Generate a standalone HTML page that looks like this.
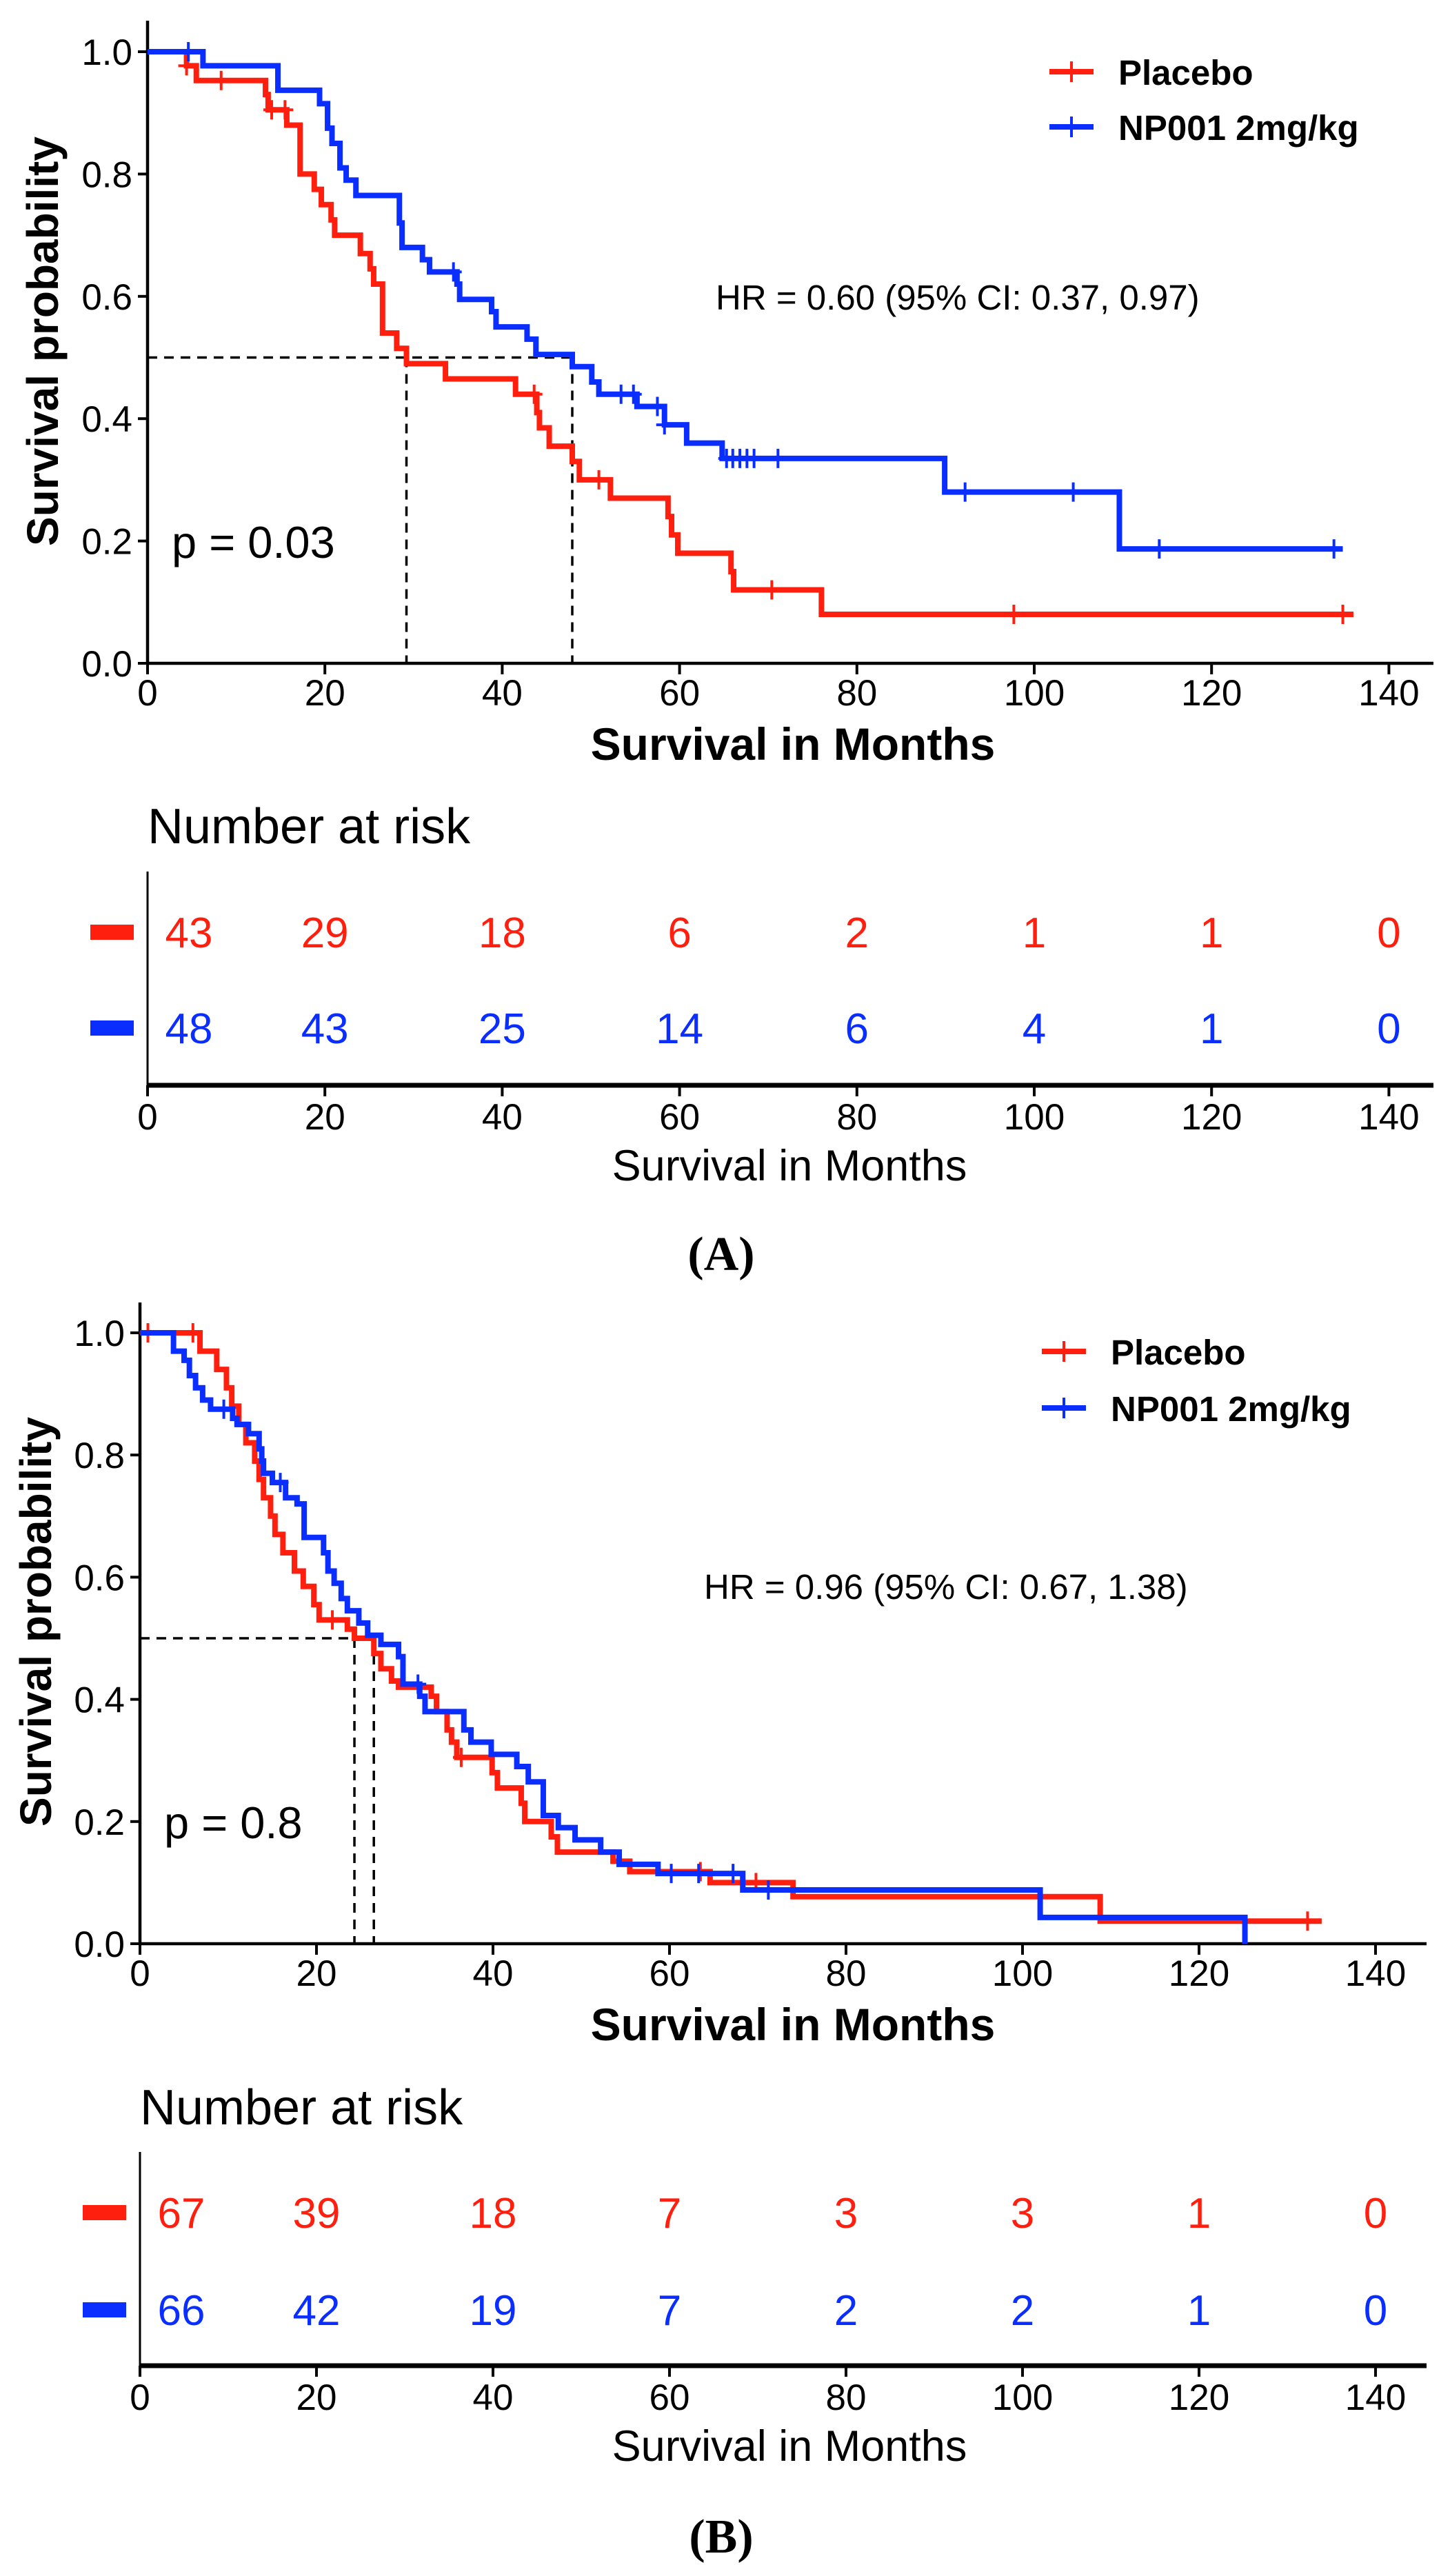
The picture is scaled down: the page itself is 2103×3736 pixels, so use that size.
<!DOCTYPE html>
<html><head><meta charset="utf-8"><style>
html,body{margin:0;padding:0;background:#fff}
svg{display:block}
text{font-family:"Liberation Sans",sans-serif}
</style></head><body>
<svg id="fig" xmlns="http://www.w3.org/2000/svg" width="2103" height="3736" viewBox="0 0 2103 3736">
<rect width="2103" height="3736" fill="#fff"/>
</svg>
<script>
// ---------- Panel A data ----------
const aPlaceboT = [0,4.4,5.5,13.3,13.6,15.7,17.2,18.8,19.6,20.7,21.1,24.0,25.1,25.5,26.5,28.1,29.2,33.6,41.5,43.9,44.2,45.3,47.9,48.7,52.2,58.7,59.1,59.8,65.8,66.1,76.0];
const aPlaceboS = [1,0.977,0.953,0.93,0.905,0.88,0.80,0.775,0.75,0.725,0.70,0.67,0.645,0.62,0.54,0.515,0.49,0.465,0.44,0.41,0.385,0.355,0.33,0.30,0.27,0.24,0.21,0.18,0.15,0.12,0.08];
const aPlaceboEnd = 136;
const aPlaceboCens = [4.4,8.3,14.0,15.5,43.6,50.9,70.4,97.7,134.8];
const aDrugT = [0,6.25,14.7,19.4,20.3,20.8,21.7,22.4,23.5,28.4,28.7,31.0,31.8,34.9,35.2,38.8,39.3,42.8,43.8,47.9,50.1,50.9,55.2,58.3,60.8,64.8,89.9,109.6];
const aDrugS = [1,0.977,0.937,0.915,0.875,0.85,0.81,0.79,0.765,0.72,0.68,0.66,0.64,0.62,0.595,0.575,0.55,0.53,0.505,0.485,0.46,0.44,0.42,0.39,0.36,0.335,0.28,0.187];
const aDrugEnd = 134.8;
const aDrugCens = [4.6,34.5,53.4,54.8,57.5,58.3,65.3,66.0,66.8,67.6,68.4,71.1,92.2,104.4,114.1,133.8];
const aMedians = [29.2,47.9];
const aRiskPlacebo = ["43","29","18","6","2","1","1","0"];
const aRiskDrug = ["48","43","25","14","6","4","1","0"];
// ---------- Panel B data ----------
const bPlaceboT = [0,6.8,8.7,9.8,10.4,11.2,12.0,13.0,13.5,14.0,14.8,15.3,16.2,17.5,18.5,19.7,20.3,23.5,24.3,26.5,27.3,28.5,29.3,33.0,33.6,34.8,35.3,35.9,39.9,40.5,43.2,43.6,46.6,47.3,53.6,55.5,64.6,74.0,108.8];
const bPlaceboS = [1,0.97,0.94,0.91,0.88,0.85,0.82,0.79,0.76,0.73,0.70,0.67,0.64,0.61,0.585,0.555,0.53,0.515,0.50,0.475,0.45,0.43,0.42,0.405,0.38,0.35,0.33,0.305,0.28,0.255,0.23,0.20,0.175,0.15,0.135,0.118,0.10,0.077,0.037];
const bPlaceboEnd = 133.9;
const bPlaceboCens = [0.9,6.0,21.8,36.4,63.5,69.8,132.3];
const bDrugT = [0,3.8,5.0,5.6,6.3,7.1,8.0,10.5,11.0,12.3,13.5,13.8,14.0,15.0,16.5,17.8,18.6,20.8,21.3,22.0,22.8,23.5,24.8,25.8,27.3,29.3,29.8,31.7,32.3,36.7,37.5,39.8,42.7,44.0,45.7,47.4,49.3,52.2,54.3,58.7,68.3,102.0,125.2];
const bDrugS = [1,0.97,0.955,0.93,0.91,0.89,0.875,0.86,0.85,0.835,0.81,0.79,0.77,0.755,0.73,0.72,0.665,0.64,0.61,0.59,0.565,0.545,0.525,0.505,0.49,0.47,0.425,0.405,0.38,0.35,0.33,0.31,0.29,0.265,0.21,0.19,0.17,0.15,0.13,0.115,0.088,0.043,0];
const bDrugEnd = 125.2;
const bDrugCens = [9.5,15.9,31.5,60.2,63.3,67.2,71.2];
const bMedians = [24.3,26.5];
const bRiskPlacebo = ["67","39","18","7","3","3","1","0"];
const bRiskDrug = ["66","42","19","7","2","2","1","0"];
// ---------- shared ----------
const xTicks = [0,20,40,60,80,100,120,140];
const yTicks = [0,0.2,0.4,0.6,0.8,1.0];
const yTickLabels = ["0.0","0.2","0.4","0.6","0.8","1.0"];

const NS="http://www.w3.org/2000/svg";
const svg=document.getElementById('fig');
function mk(tag,attrs,parent){const e=document.createElementNS(NS,tag);for(const k in attrs)e.setAttribute(k,attrs[k]);(parent||svg).appendChild(e);return e;}
function txt(s,attrs,parent){const e=mk('text',attrs,parent);e.textContent=s;return e;}
const RED="#ff1f0f", BLUE="#0a2eff";

function panel(cfg){
  const g=mk('g',{});
  
  
  const X=m=>cfg.x0+m*cfg.k, Y=s=>cfg.y0-s*cfg.h;
  const ya=mk('line',{x1:cfg.x0,y1:cfg.top,x2:cfg.x0,y2:cfg.y0+2,stroke:'#000','stroke-width':4.5},g);
  
  const xa=mk('line',{x1:cfg.x0-2,y1:cfg.y0,x2:cfg.xr,y2:cfg.y0,stroke:'#000','stroke-width':4.5},g);
  
  xTicks.forEach(t=>{
    mk('line',{x1:X(t),y1:cfg.y0,x2:X(t),y2:cfg.y0+16,stroke:'#000','stroke-width':4},g);
    const l=txt(String(t),{x:X(t),y:cfg.y0+61,'text-anchor':'middle','font-size':53,fill:'#000'},g);
    
  });
  yTicks.forEach((t,i)=>{
    mk('line',{x1:cfg.x0-14,y1:Y(t),x2:cfg.x0,y2:Y(t),stroke:'#000','stroke-width':4},g);
    const l=txt(yTickLabels[i],{x:cfg.x0-22,y:Y(t)+19,'text-anchor':'end','font-size':53,fill:'#000'},g);
    
  });
  const yt=txt('Survival probability',{x:0,y:0,transform:`translate(${cfg.ytx},${cfg.yty}) rotate(-90)`,'text-anchor':'middle','font-size':64,'font-weight':'bold',fill:'#000'},g);
  
  const xt=txt('Survival in Months',{x:1150,y:cfg.y0+140,'text-anchor':'middle','font-size':66,'font-weight':'bold',fill:'#000'},g);
  
  const mx=Math.max(...cfg.med);
  const dh=mk('line',{x1:cfg.x0,y1:Y(0.5),x2:X(mx),y2:Y(0.5),stroke:'#000','stroke-width':3.5,'stroke-dasharray':'14 10'},g);
  
  cfg.med.forEach(m=>{
    const d=mk('line',{x1:X(m),y1:Y(0.5),x2:X(m),y2:cfg.y0,stroke:'#000','stroke-width':3.5,'stroke-dasharray':'14 10'},g);
    
  });
  function curve(T,S,end,cens,col,nm){
    let d=`M${X(T[0])},${Y(S[0])}`;
    for(let i=1;i<T.length;i++){d+=` H${X(T[i])} V${Y(S[i])}`;}
    d+=` H${X(end)}`;
    const p=mk('path',{d,fill:'none',stroke:col,'stroke-width':8,'stroke-linejoin':'miter'},g);
    
    cens.forEach(c=>{
      let s=S[0];for(let i=0;i<T.length;i++){if(T[i]<=c)s=S[i];}
      const cm=mk('path',{d:`M${X(c)-12},${Y(s)} H${X(c)+12} M${X(c)},${Y(s)-14} V${Y(s)+14}`,stroke:col,'stroke-width':4},g);
      
    });
  }
  curve(cfg.pT,cfg.pS,cfg.pEnd,cfg.pC,RED,'placebo');
  curve(cfg.dT,cfg.dS,cfg.dEnd,cfg.dC,BLUE,'np001');
  [[RED,'Placebo',cfg.ly1],[BLUE,'NP001 2mg/kg',cfg.ly2]].forEach(([c,l,y])=>{
    const lg=mk('g',{},g);
    
    mk('line',{x1:cfg.lx,y1:y,x2:cfg.lx+64,y2:y,stroke:c,'stroke-width':8},lg);
    mk('line',{x1:cfg.lx+32,y1:y-15,x2:cfg.lx+32,y2:y+15,stroke:c,'stroke-width':4},lg);
    txt(l,{x:cfg.lx+100,y:y+19,'font-size':51,'font-weight':'bold',fill:'#000'},lg);
  });
  const hr=txt(cfg.hr,{x:cfg.hrx,y:cfg.hry,'font-size':51,fill:'#000'},g);
  
  const pv=txt(cfg.p,{x:cfg.px,y:cfg.py,'font-size':65,fill:'#000'},g);
  
  const rt=mk('g',{},g);
  
  const nt=txt('Number at risk',{x:cfg.x0,y:cfg.nry,'font-size':72,fill:'#000'},rt);
  
  mk('line',{x1:cfg.x0,y1:cfg.rtop,x2:cfg.x0,y2:cfg.ry0,stroke:'#000','stroke-width':3},rt);
  mk('line',{x1:cfg.x0,y1:cfg.ry0,x2:cfg.xr,y2:cfg.ry0,stroke:'#000','stroke-width':7},rt);
  xTicks.forEach(t=>{
    mk('line',{x1:X(t),y1:cfg.ry0,x2:X(t),y2:cfg.ry0+16,stroke:'#000','stroke-width':4},rt);
    txt(String(t),{x:X(t),y:cfg.ry0+64,'text-anchor':'middle','font-size':53,fill:'#000'},rt);
  });
  const rtt=txt('Survival in Months',{x:1145,y:cfg.ry0+138,'text-anchor':'middle','font-size':63,fill:'#000'},rt);
  
  [[cfg.rP,RED,cfg.r1],[cfg.rD,BLUE,cfg.r2]].forEach(([vals,c,y])=>{
    const sw=mk('rect',{x:cfg.x0-83,y:y-11,width:63,height:22,fill:c},rt);
    
    vals.forEach((v,i)=>{
      const xx=i===0?cfg.x0+60:X(xTicks[i]);
      const n=txt(v,{x:xx,y:y+22,'text-anchor':'middle','font-size':62,fill:c},rt);
      
    });
  });
  const lab=txt('('+cfg.label+')',{x:1046,y:cfg.laby,'text-anchor':'middle','font-size':70,'font-weight':'bold',fill:'#000',style:'font-family:"Liberation Serif",serif'},g);
  
}

panel({name:'panel-a',x0:214,k:12.86,y0:962,h:887,top:30,xr:2079,ytx:84,yty:495,
  pT:aPlaceboT,pS:aPlaceboS,pEnd:aPlaceboEnd,pC:aPlaceboCens,
  dT:aDrugT,dS:aDrugS,dEnd:aDrugEnd,dC:aDrugCens,med:aMedians,
  lx:1522,ly1:104,ly2:184,hr:'HR = 0.60 (95% CI: 0.37, 0.97)',hrx:1038,hry:449,
  p:'p = 0.03',px:249,py:809,nry:1223,rtop:1264,ry0:1574,r1:1352,r2:1491,
  rP:aRiskPlacebo,rD:aRiskDrug,label:'A',laby:1842});
panel({name:'panel-b',x0:203,k:12.8,y0:2819,h:886,top:1889,xr:2069,ytx:74,yty:2352,
  pT:bPlaceboT,pS:bPlaceboS,pEnd:bPlaceboEnd,pC:bPlaceboCens,
  dT:bDrugT,dS:bDrugS,dEnd:bDrugEnd,dC:bDrugCens,med:bMedians,
  lx:1511,ly1:1960,ly2:2042,hr:'HR = 0.96 (95% CI: 0.67, 1.38)',hrx:1021,hry:2319,
  p:'p = 0.8',px:238,py:2666,nry:3081,rtop:3121,ry0:3431,r1:3209,r2:3350,
  rP:bRiskPlacebo,rD:bRiskDrug,label:'B',laby:3702});
</script>
</body></html>
